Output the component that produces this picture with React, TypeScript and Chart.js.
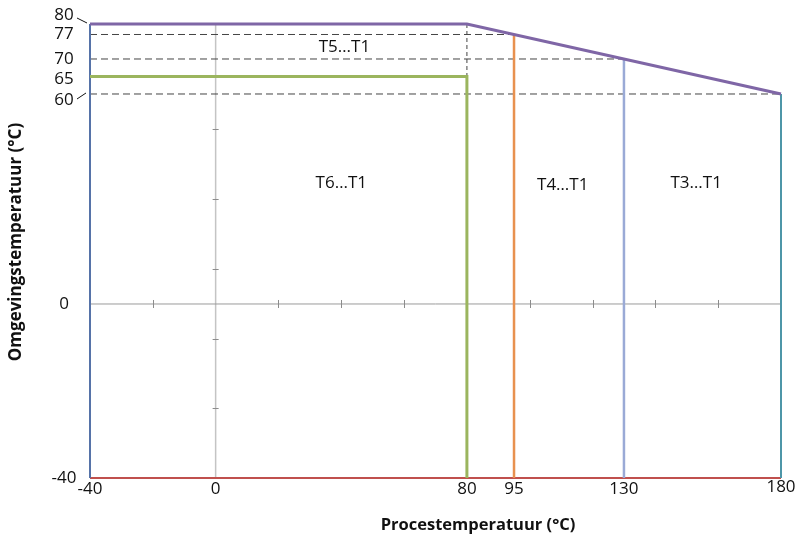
import React, { useEffect, useRef } from 'react';
import { Chart, registerables, LinearScale } from 'chart.js';

Chart.register(...registerables);

// ---- data ----
const xTickValues = [-40, 0, 80, 95, 130, 180];
const yTickValues = [80, 77, 70, 65, 60, 0, -40];
const xMinorTicks = [-20, 20, 40, 60, 100, 120, 140, 160];
const yMinorTicks = [50, 30, 10, -8, -24];

const envelopeX = [-40, 80, 180];
const envelopeY = [80, 80, 60];
const leftEdgeX = [-40, -40];
const leftEdgeY = [80, -40];
const rightEdgeX = [180, 180];
const rightEdgeY = [60, -40];
const bottomEdgeX = [-40, 180];
const bottomEdgeY = [-40, -40];
const t6X = [-40, 80, 80];
const t6Y = [65, 65, -40];
const t4X = [95, 95];
const t4Y = [77, -40];
const t3X = [130, 130];
const t3Y = [70, -40];

const dash77X = [-40, 95];
const dash77Y = [77, 77];
const dash70X = [-40, 130];
const dash70Y = [70, 70];
const dash60X = [-40, 180];
const dash60Y = [60, 60];
const dash80X = [80, 80];
const dash80Y = [80, 65];

const zeroHX = [-40, 180];
const zeroHY = [0, 0];
const zeroVX = [0, 0];
const zeroVY = [80, -40];

const zoneLabels = ['T5…T1', 'T6…T1', 'T4…T1', 'T3…T1'];
const zoneX = [41, 40, 110.5, 153];
const zoneY = [73.5, 34.5, 34, 34.5];

const xTitle = 'Procestemperatuur (°C)';
const yTitle = 'Omgevingstemperatuur (°C)';

// ---- custom scale: below zero is stretched ----
const NEG_STRETCH = 1.243;
class SplitLinearScale extends LinearScale {
  static id = 'splitLinear';
  static defaults = LinearScale.defaults;
  getPixelForValue(value: number, index?: number) {
    return super.getPixelForValue(value < 0 ? value * NEG_STRETCH : value, index);
  }
  getValueForPixel(pixel: number) {
    const v = super.getValueForPixel(pixel);
    return v < 0 ? v / NEG_STRETCH : v;
  }
}
Chart.register(SplitLinearScale as any);

const zip = (xs: number[], ys: number[]) => xs.map((x, i) => ({ x, y: ys[i] }));

const FONT = '"Open Sans", "Noto Sans", sans-serif';

const line = (data: any[], color: string, width: number, order: number, dash: number[] = []) => ({
  data,
  showLine: true,
  borderColor: color,
  backgroundColor: color,
  borderWidth: width,
  borderDash: dash,
  pointRadius: 0,
  pointHoverRadius: 0,
  fill: false,
  tension: 0,
  clip: false as any,
  order,
});

const decorPlugin = {
  id: 'decor',
  afterDatasetsDraw(chart: any) {
    const { ctx } = chart;
    const xs = chart.scales.x;
    const ys = chart.scales.y;
    ctx.save();
    // minor ticks
    ctx.strokeStyle = '#8c8c8c';
    ctx.lineWidth = 1;
    const y0 = ys.getPixelForValue(0);
    const x0 = xs.getPixelForValue(0);
    xMinorTicks.forEach((v) => {
      const px = Math.round(xs.getPixelForValue(v)) + 0.5;
      ctx.beginPath();
      ctx.moveTo(px, y0 - 4);
      ctx.lineTo(px, y0 + 4);
      ctx.stroke();
    });
    yMinorTicks.forEach((v) => {
      const py = Math.round(ys.getPixelForValue(v)) + 0.5;
      ctx.beginPath();
      ctx.moveTo(x0 - 3, py);
      ctx.lineTo(x0 + 3, py);
      ctx.stroke();
    });

    // y tick labels
    const nudge: Record<number, number> = { 80: -9, 65: 3, 60: 6 };
    ctx.fillStyle = '#111';
    ctx.font = `17px ${FONT}`;
    ctx.textAlign = 'center';
    ctx.textBaseline = 'middle';
    yTickValues.forEach((v) => {
      const py = ys.getPixelForValue(v) + (nudge[v] || 0);
      ctx.fillText(String(v), 64, py);
    });
    // leader lines
    ctx.strokeStyle = '#111';
    ctx.lineWidth = 1;
    const p80 = ys.getPixelForValue(80);
    const p60 = ys.getPixelForValue(60);
    ctx.beginPath();
    ctx.moveTo(77, p80 - 6);
    ctx.lineTo(87, p80 - 1);
    ctx.moveTo(77, p60 + 5);
    ctx.lineTo(86, p60 - 1);
    ctx.stroke();

    // x tick labels
    const bottom = ys.getPixelForValue(-40);
    xTickValues.forEach((v) => {
      const px = xs.getPixelForValue(v);
      ctx.fillText(String(v), px, bottom + (v === 180 ? 9 : 11));
    });

    // zone labels
    ctx.font = `17px ${FONT}`;
    zoneLabels.forEach((t, i) => {
      ctx.fillText(t, xs.getPixelForValue(zoneX[i]), ys.getPixelForValue(zoneY[i]));
    });

    // axis titles
    ctx.font = `bold 16.5px ${FONT}`;
    ctx.fillText(xTitle, 478, 525);
    ctx.save();
    ctx.translate(16, 242);
    ctx.rotate(-Math.PI / 2);
    ctx.font = `bold 17px ${FONT}`;
    ctx.fillText(yTitle, 0, 0);
    ctx.restore();
    ctx.restore();
  },
};

export default function App() {
  const ref = useRef<HTMLCanvasElement | null>(null);
  useEffect(() => {
    if (!ref.current) return;
    const chart = new Chart(ref.current, {
      type: 'scatter',
      data: {
        datasets: [
          line(zip(envelopeX, envelopeY), '#7f66a6', 3, 0),
          line(zip(t6X, t6Y), '#9bb55e', 3, 0),
          line(zip(t4X, t4Y), '#e8914f', 2.5, 0),
          line(zip(t3X, t3Y), '#9aaad6', 2.5, 0),
          line(zip(leftEdgeX, leftEdgeY), '#5673a8', 2, 0),
          line(zip(rightEdgeX, rightEdgeY), '#4e96a8', 2, 0),
          line(zip(bottomEdgeX, bottomEdgeY), '#c0504d', 2, 0),
          line(zip(dash77X, dash77Y), '#444', 1, 1, [7, 4]),
          line(zip(dash70X, dash70Y), '#444', 1, 1, [7, 4]),
          line(zip(dash60X, dash60Y), '#444', 1, 1, [7, 4]),
          line(zip(dash80X, dash80Y), '#444', 1, 1, [4, 3]),
          line(zip(zeroHX, zeroHY), '#9a9a9a', 1, 2),
          line(zip(zeroVX, zeroVY), '#c4c4c4', 1.5, 2),
        ],
      },
      options: {
        animation: false,
        responsive: true,
        maintainAspectRatio: false,
        layout: { padding: { left: 90, right: 16, top: 24, bottom: 63 } },
        plugins: { legend: { display: false }, tooltip: { enabled: false } },
        events: [],
        scales: {
          x: { type: 'linear', min: -40, max: 180, display: false, bounds: 'data' },
          y: { type: 'splitLinear' as any, min: -40 * NEG_STRETCH, max: 80, display: false, bounds: 'data' } as any,
        },
      },
      plugins: [decorPlugin],
    });
    return () => chart.destroy();
  }, []);
  return (
    <div style={{ position: 'absolute', left: 0, top: 0, width: 797, height: 541, background: '#fff' }}>
      <canvas ref={ref} />
    </div>
  );
}
